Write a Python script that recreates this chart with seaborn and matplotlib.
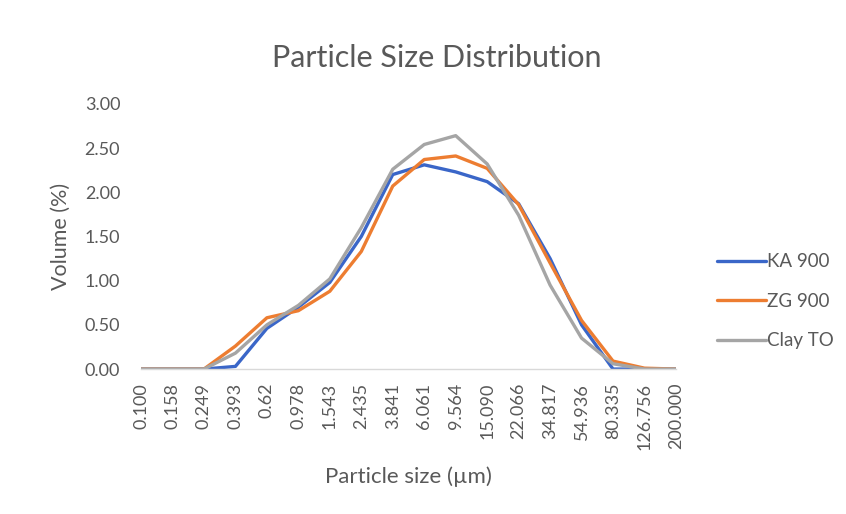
import matplotlib
matplotlib.use("Agg")
import matplotlib.pyplot as plt
import seaborn as sns
import pandas as pd

# Particle size classes (µm) and volume fractions (%) per sample
sizes = ["0.100", "0.158", "0.249", "0.393", "0.62", "0.978", "1.543", "2.435",
         "3.841", "6.061", "9.564", "15.090", "22.066", "34.817", "54.936",
         "80.335", "126.756", "200.000"]
ka_900 = [0.00, 0.00, 0.00, 0.03, 0.46, 0.70, 0.98, 1.50, 2.20, 2.31, 2.23,
          2.12, 1.87, 1.25, 0.50, 0.00, 0.00, 0.00]
zg_900 = [0.00, 0.00, 0.00, 0.26, 0.58, 0.66, 0.88, 1.33, 2.07, 2.37, 2.41,
          2.27, 1.86, 1.20, 0.55, 0.09, 0.01, 0.00]
clay_to = [0.00, 0.00, 0.00, 0.18, 0.50, 0.72, 1.02, 1.60, 2.26, 2.54, 2.64,
           2.32, 1.74, 0.95, 0.35, 0.06, 0.00, 0.00]
series_names = ["KA 900", "ZG 900", "Clay TO"]

df = pd.DataFrame({
    "size": sizes * 3,
    "volume": ka_900 + zg_900 + clay_to,
    "sample": [n for n in series_names for _ in sizes],
})

sns.set_theme(style="white")
plt.rcParams["font.family"] = ["Lato", "DejaVu Sans"]

text_gray = "#595959"
palette = {"KA 900": "#3A66C8", "ZG 900": "#ED7D31", "Clay TO": "#A5A5A5"}

fig = plt.figure(figsize=(8.46, 5.14), dpi=100)
ax = fig.add_axes([0.1667, 0.282, 0.799 - 0.1667, 0.798 - 0.282])

sns.lineplot(data=df, x="size", y="volume", hue="sample", palette=palette,
             hue_order=series_names, sort=False, linewidth=2.4, ax=ax,
             legend=True)

yticks = [0, 0.5, 1.0, 1.5, 2.0, 2.5, 3.0]
ax.set_xlim(0, len(sizes) - 1)
ax.set_ylim(0, 3.0)
ax.set_yticks(yticks)
ax.set_yticklabels([f"{v:.2f}" for v in yticks])
ax.set_xticks(range(len(sizes)))
ax.set_xticklabels(sizes, rotation=90)
ax.tick_params(axis="both", length=0, labelsize=13, labelcolor=text_gray)
ax.tick_params(axis="x", pad=10)
ax.tick_params(axis="y", pad=15)

for side in ["top", "right", "left"]:
    ax.spines[side].set_visible(False)
ax.spines["bottom"].set_color("#D9D9D9")
ax.spines["bottom"].set_linewidth(1.0)

ax.set_xlabel("Particle size (µm)", fontsize=16, color=text_gray, labelpad=12)
ax.set_ylabel("Volume (%)", fontsize=15.5, color=text_gray, labelpad=10)

fig.text(0.516, 0.888, "Particle Size Distribution", ha="center", va="center",
         fontsize=22, color=text_gray)

handles, labels = ax.get_legend_handles_labels()
ax.get_legend().remove()
fig.legend(handles, labels, loc="center left", bbox_to_anchor=(0.828, 0.414),
           frameon=False, fontsize=13.5, labelcolor=text_gray,
           handlelength=2.6, handletextpad=0.05, labelspacing=1.2)

fig.savefig("out.png", dpi=100)
